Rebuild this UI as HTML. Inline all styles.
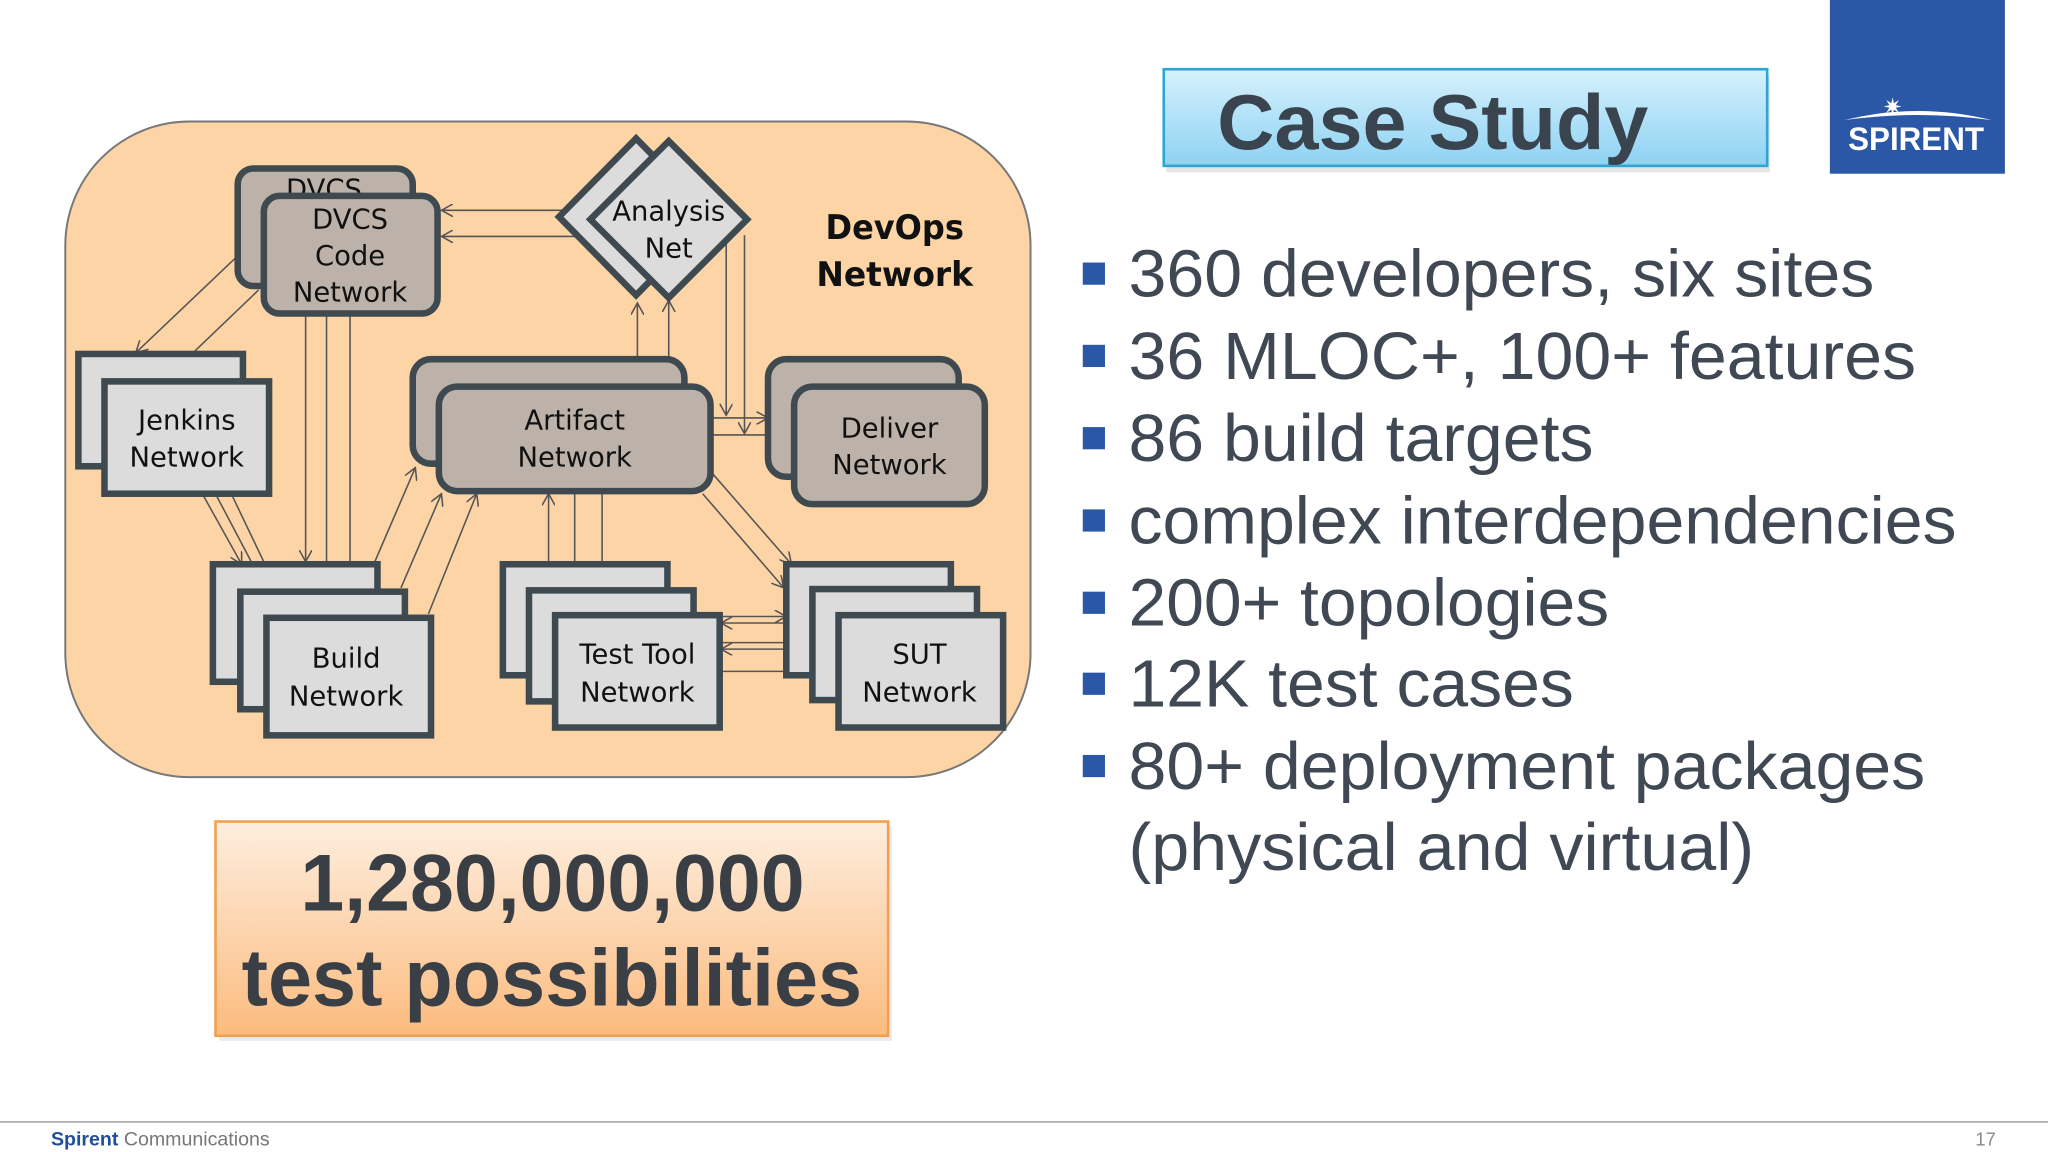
<!DOCTYPE html>
<html><head><meta charset="utf-8"><style>
html,body{margin:0;padding:0;background:#fff;width:2048px;height:1152px;overflow:hidden}
svg{display:block}
.n{font-family:"DejaVu Sans","Liberation Sans",sans-serif;font-size:21px;fill:#111;text-anchor:middle}
.b{font-family:"Liberation Sans",sans-serif;font-size:51px;fill:#3f4853}
</style></head><body>
<svg width="2048" height="1152" viewBox="0 0 1568 882" xmlns="http://www.w3.org/2000/svg">
<defs>
<linearGradient id="cs" x1="0" y1="0" x2="0" y2="1"><stop offset="0" stop-color="#d6f1fc"/><stop offset="1" stop-color="#8ed2f4"/></linearGradient>
<linearGradient id="ob" x1="0" y1="0" x2="0" y2="1"><stop offset="0" stop-color="#feeedf"/><stop offset="1" stop-color="#fbbb7e"/></linearGradient>
<marker id="a" markerWidth="10" markerHeight="10" refX="9" refY="5" orient="auto" markerUnits="userSpaceOnUse"><path d="M0,0 L9,5 L0,10" fill="none" stroke="#555" stroke-width="1.2"/></marker>
</defs>
<rect x="1401" y="0" width="134" height="133" fill="#2a58a6"/>
<path d="M1412,92 Q1468,78 1525,92 Q1468,84 1412,92Z" fill="#fff"/>
<text x="1449" y="88" font-family="DejaVu Sans" font-size="18" fill="#fff" text-anchor="middle">✷</text>
<text x="1467" y="115" font-family="Liberation Sans" font-weight="bold" font-size="25" fill="#fff" text-anchor="middle" textLength="104" lengthAdjust="spacingAndGlyphs">SPIRENT</text>
<rect x="893" y="58" width="462" height="74" fill="#ccc" opacity="0.5"/>
<rect x="891" y="53" width="462" height="74" fill="url(#cs)" stroke="#2fa6d2" stroke-width="2"/>
<text x="932" y="114" font-family="Liberation Sans" font-weight="bold" font-size="60" fill="#3a444e" textLength="330" lengthAdjust="spacingAndGlyphs">Case Study</text>
<g fill="#2a58a6">
<rect x="829" y="201" width="17" height="17"/><rect x="829" y="264" width="17" height="17"/><rect x="829" y="327" width="17" height="17"/><rect x="829" y="390" width="17" height="17"/><rect x="829" y="453" width="17" height="17"/><rect x="829" y="515" width="17" height="17"/><rect x="829" y="578" width="17" height="17"/>
</g>
<text class="b" x="864" y="227" textLength="571" lengthAdjust="spacingAndGlyphs">360 developers, six sites</text>
<text class="b" x="864" y="290" textLength="603" lengthAdjust="spacingAndGlyphs">36 MLOC+, 100+ features</text>
<text class="b" x="864" y="353" textLength="356" lengthAdjust="spacingAndGlyphs">86 build targets</text>
<text class="b" x="864" y="416" textLength="634" lengthAdjust="spacingAndGlyphs">complex interdependencies</text>
<text class="b" x="864" y="479" textLength="368" lengthAdjust="spacingAndGlyphs">200+ topologies</text>
<text class="b" x="864" y="541" textLength="341" lengthAdjust="spacingAndGlyphs">12K test cases</text>
<text class="b" x="864" y="604" textLength="610" lengthAdjust="spacingAndGlyphs">80+ deployment packages</text>
<text class="b" x="864" y="666" textLength="479" lengthAdjust="spacingAndGlyphs">(physical and virtual)</text>
<rect x="168" y="633" width="515" height="164" fill="#ddd" opacity="0.6"/>
<rect x="165" y="629" width="515" height="164" fill="url(#ob)" stroke="#f0a050" stroke-width="2"/>
<text x="230" y="697" font-family="Liberation Sans" font-weight="bold" font-size="62" fill="#3a3f45" textLength="386" lengthAdjust="spacingAndGlyphs">1,280,000,000</text>
<text x="185" y="770" font-family="Liberation Sans" font-weight="bold" font-size="62" fill="#3a3f45" textLength="475" lengthAdjust="spacingAndGlyphs">test possibilities</text>
<rect x="50" y="93" width="739" height="502" rx="95" fill="#fdd4a6" stroke="#777" stroke-width="1.5"/>
<g stroke="#555" stroke-width="1.2" fill="none" marker-end="url(#a)">
<line x1="432" y1="161" x2="338" y2="161"/><line x1="440" y1="181" x2="338" y2="181"/>
<line x1="184" y1="194" x2="104" y2="270"/><line x1="198" y1="222" x2="126" y2="291"/>
<line x1="234" y1="242" x2="234" y2="430"/><line x1="250" y1="242" x2="250" y2="452"/><line x1="268" y1="242" x2="268" y2="470"/>
<line x1="156" y1="380" x2="185" y2="432"/><line x1="166" y1="380" x2="205" y2="454"/><line x1="178" y1="380" x2="222" y2="472"/>
<line x1="287" y1="430" x2="318" y2="358"/><line x1="307" y1="450" x2="338" y2="378"/><line x1="328" y1="470" x2="365" y2="378"/>
<line x1="488" y1="274" x2="488" y2="232"/><line x1="512" y1="294" x2="512" y2="230"/>
<line x1="556" y1="175" x2="556" y2="318"/><line x1="570" y1="180" x2="570" y2="332"/>
<line x1="545" y1="320" x2="588" y2="320"/><line x1="545" y1="333" x2="606" y2="333"/>
<line x1="420" y1="432" x2="420" y2="378"/><line x1="440" y1="378" x2="440" y2="452"/><line x1="461" y1="366" x2="461" y2="470"/>
<line x1="545" y1="362" x2="606" y2="432"/><line x1="538" y1="378" x2="600" y2="450"/>
<line x1="552" y1="472" x2="602" y2="472"/><line x1="602" y1="477" x2="552" y2="477"/>
<line x1="552" y1="492" x2="622" y2="492"/><line x1="622" y1="497" x2="552" y2="497"/>
<line x1="552" y1="514" x2="642" y2="514"/>
</g>
<g stroke="#3e4950" stroke-width="5">
<rect x="182" y="129" width="134" height="90" rx="12" fill="#bcb2a9"/>
</g>
<text class="n" x="248" y="152">DVCS</text>
<g stroke="#3e4950" stroke-width="5">
<rect x="202" y="150" width="133" height="90" rx="12" fill="#bcb2a9"/>
<polygon points="487,106 546,166 487,226 428,166" fill="#dcdcdc"/>
<polygon points="512,108 572,168 512,228 452,168" fill="#dcdcdc"/>
<rect x="60" y="271" width="126" height="86" fill="#dcdcdc"/>
<rect x="80" y="292" width="126" height="86" fill="#dcdcdc"/>
<rect x="316" y="275" width="208" height="80" rx="14" fill="#bcb2a9"/>
<rect x="336" y="296" width="208" height="80" rx="14" fill="#bcb2a9"/>
<rect x="588" y="275" width="146" height="90" rx="14" fill="#bcb2a9"/>
<rect x="608" y="296" width="146" height="90" rx="14" fill="#bcb2a9"/>
<rect x="163" y="432" width="126" height="90" fill="#dcdcdc"/>
<rect x="184" y="453" width="126" height="90" fill="#dcdcdc"/>
<rect x="204" y="473" width="126" height="90" fill="#dcdcdc"/>
<rect x="385" y="432" width="126" height="85" fill="#dcdcdc"/>
<rect x="405" y="452" width="126" height="85" fill="#dcdcdc"/>
<rect x="425" y="471" width="126" height="86" fill="#dcdcdc"/>
<rect x="602" y="432" width="126" height="85" fill="#dcdcdc"/>
<rect x="622" y="451" width="126" height="85" fill="#dcdcdc"/>
<rect x="642" y="471" width="126" height="86" fill="#dcdcdc"/>
</g>
<text class="n" x="268" y="175">DVCS</text><text class="n" x="268" y="203">Code</text><text class="n" x="268" y="231">Network</text>
<text class="n" x="512" y="169">Analysis</text><text class="n" x="512" y="197">Net</text>
<text x="685" y="183" font-family="DejaVu Sans" font-weight="bold" font-size="26" fill="#111" text-anchor="middle" textLength="106" lengthAdjust="spacingAndGlyphs">DevOps</text>
<text x="685" y="219" font-family="DejaVu Sans" font-weight="bold" font-size="26" fill="#111" text-anchor="middle" textLength="120" lengthAdjust="spacingAndGlyphs">Network</text>
<text class="n" x="143" y="329">Jenkins</text><text class="n" x="143" y="357">Network</text>
<text class="n" x="440" y="329">Artifact</text><text class="n" x="440" y="357">Network</text>
<text class="n" x="681" y="335">Deliver</text><text class="n" x="681" y="363">Network</text>
<text class="n" x="265" y="511">Build</text><text class="n" x="265" y="540">Network</text>
<text class="n" x="488" y="508">Test Tool</text><text class="n" x="488" y="537">Network</text>
<text class="n" x="704" y="508">SUT</text><text class="n" x="704" y="537">Network</text>
<line x1="0" y1="859" x2="1568" y2="859" stroke="#999" stroke-width="1"/>
<text x="39" y="877" font-family="Liberation Sans" font-size="15"><tspan fill="#1f4e9a" font-weight="bold">Spirent</tspan><tspan fill="#777"> Communications</tspan></text>
<text x="1528" y="877" font-family="Liberation Sans" font-size="14" fill="#888" text-anchor="end">17</text>
</svg>
</body></html>
